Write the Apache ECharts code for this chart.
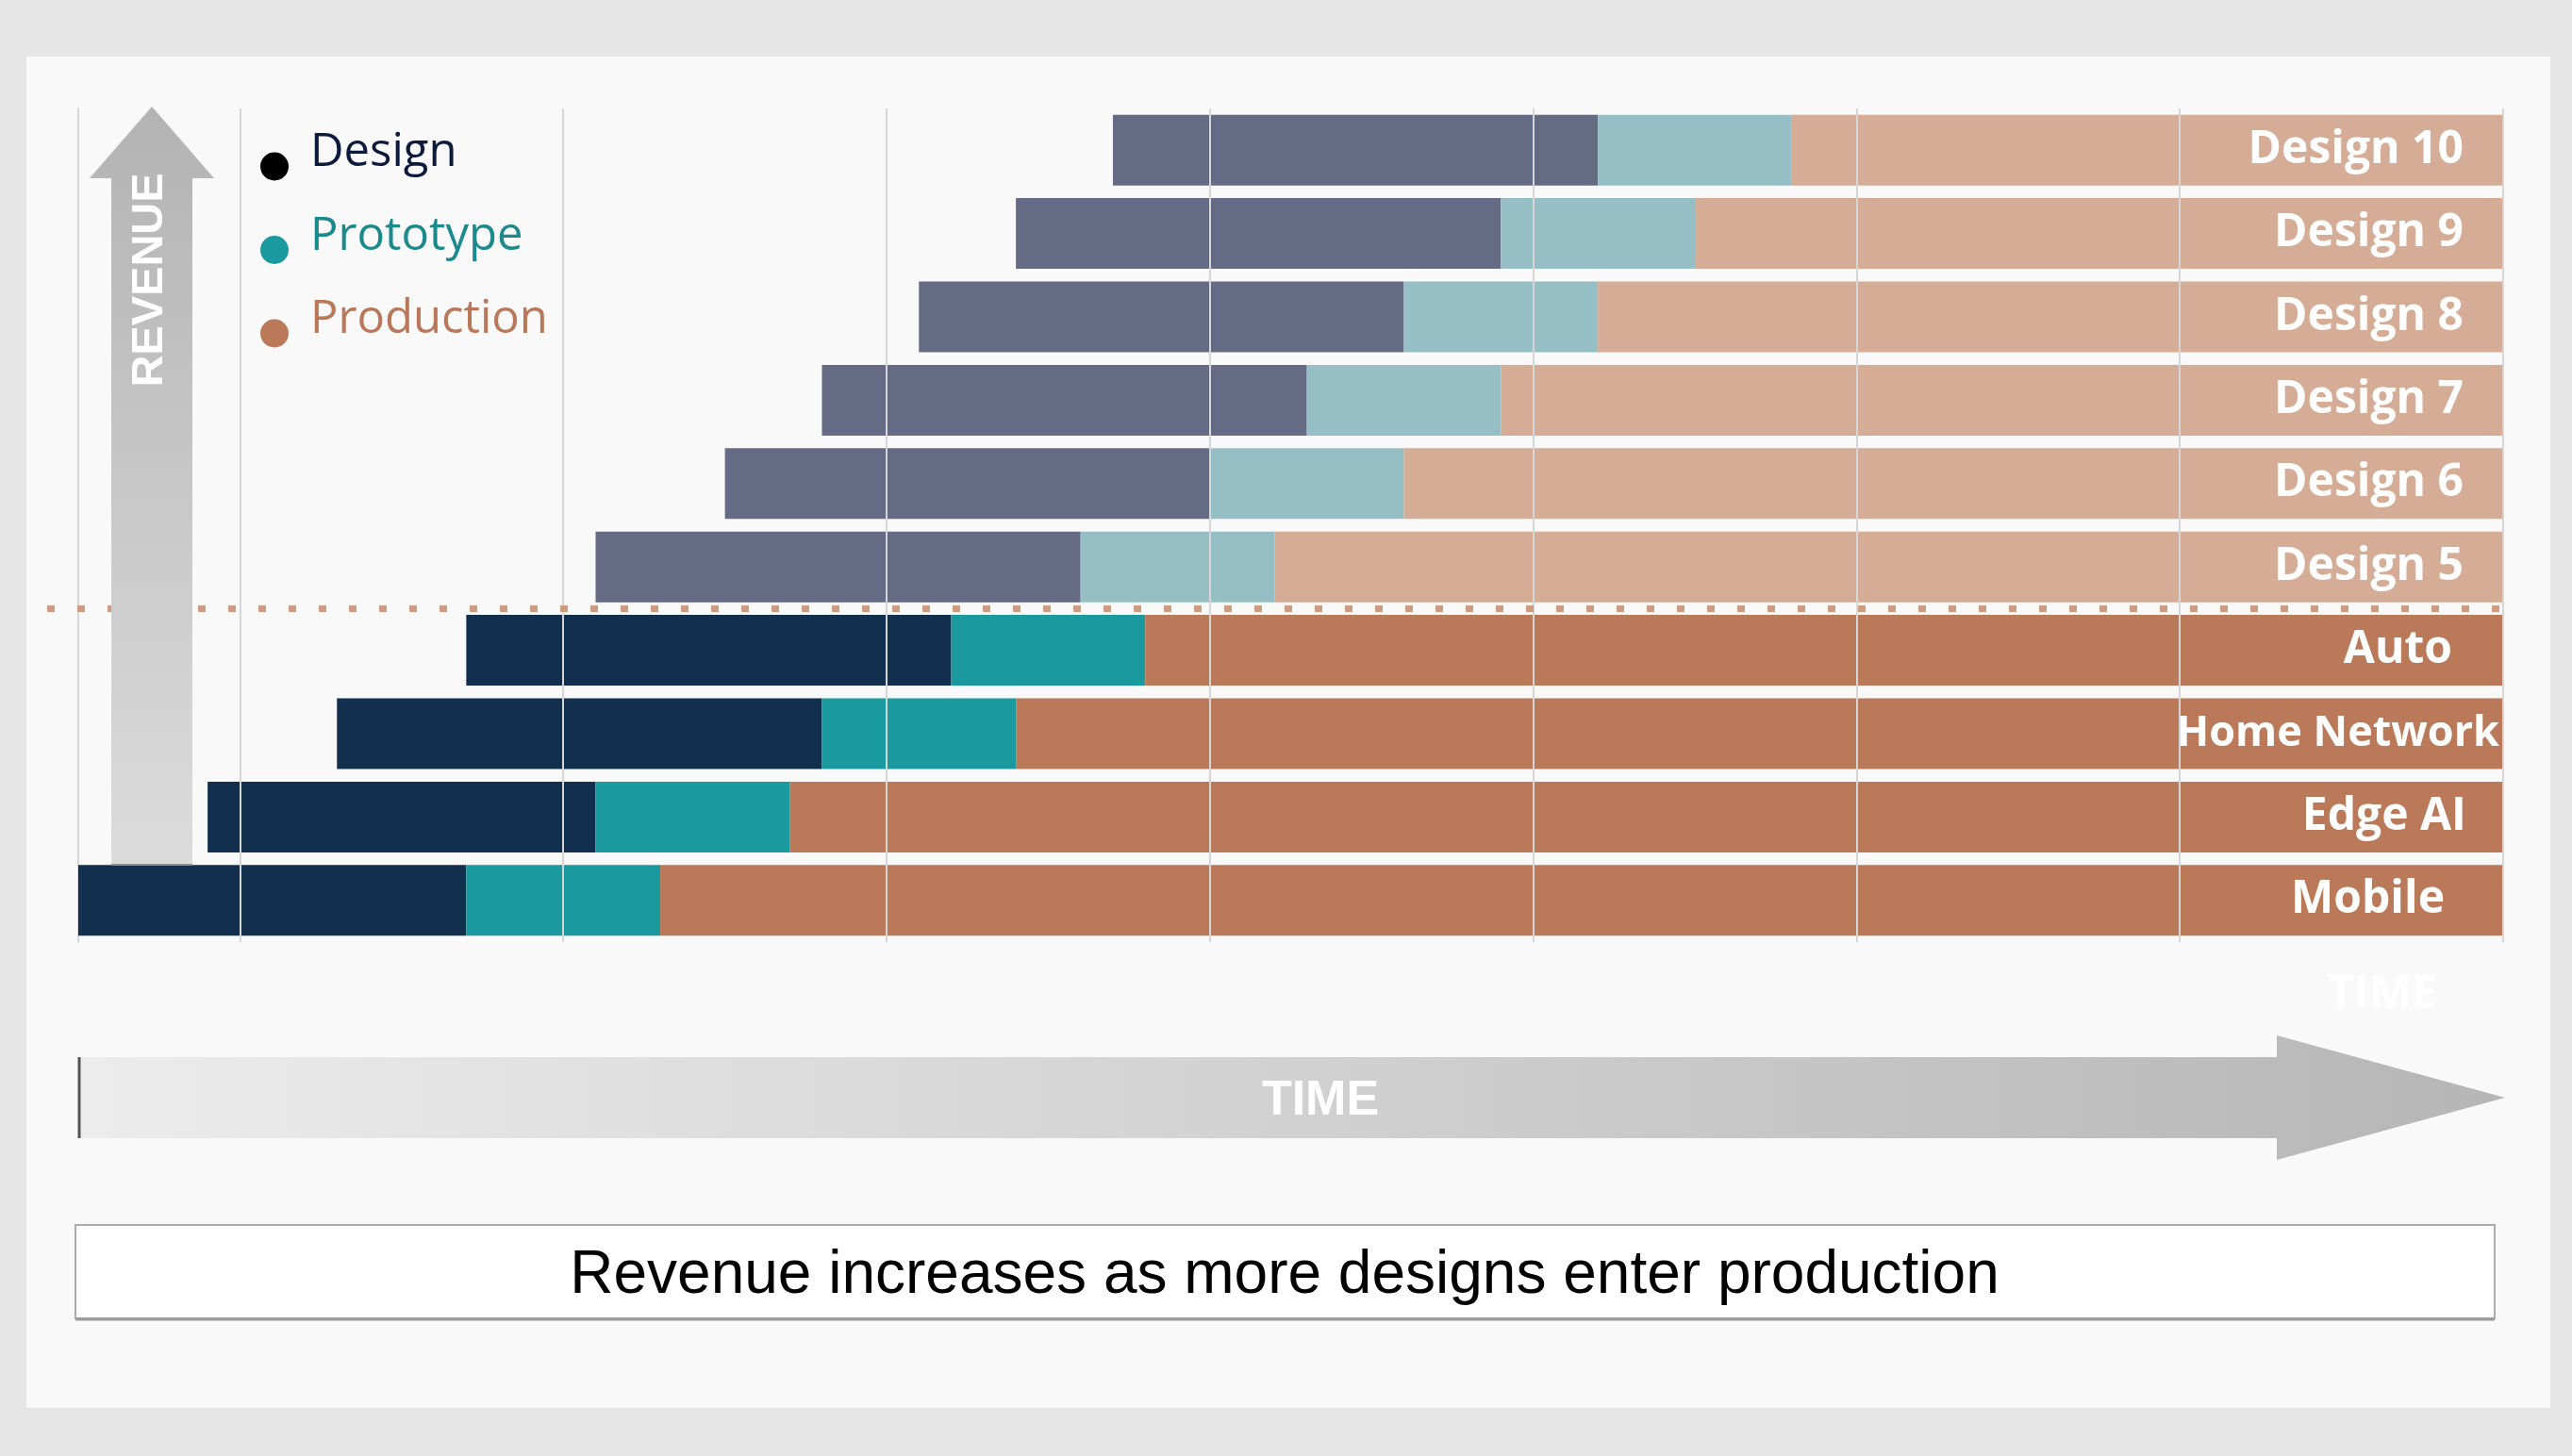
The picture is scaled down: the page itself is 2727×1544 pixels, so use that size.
<!DOCTYPE html>
<html><head><meta charset="utf-8">
<script src="https://cdn.jsdelivr.net/npm/echarts@6/dist/echarts.min.js"></script>
<style>html,body{margin:0;padding:0;background:#e5e5e5}#chart{width:2727px;height:1544px}</style>
</head><body><div id="chart"></div>
<script>
// ---- data ----
const categories = ['Mobile', 'Edge AI', 'Home Network', 'Auto', 'Design 5', 'Design 6', 'Design 7', 'Design 8', 'Design 9', 'Design 10'];
const startTime = [0, 4, 8, 12, 16, 20, 23, 26, 29, 32];
const designLength = [12, 12, 15, 15, 15, 15, 15, 15, 15, 15];
const prototypeLength = [6, 6, 6, 6, 6, 6, 6, 6, 6, 6];
const productionLength = [57, 53, 46, 42, 38, 34, 31, 28, 25, 22];
const inProduction = [true, true, true, true, false, false, false, false, false, false];
const phaseNames = ['Design', 'Prototype', 'Production'];
const timeMin = 0;
const timeMax = 75;
const timeTickStep = 5;

// ---- styles ----
const phaseColors = {
  Design: { live: '#12304d', planned: '#666b85' },
  Prototype: { live: '#1a999e', planned: '#95bfc5' },
  Production: { live: '#ba7a5a', planned: '#d5ac95' }
};
const legendTextColors = { Design: '#0c1a3c', Prototype: '#1a8a8c', Production: '#b9785a' };
const labelInset = { 'Mobile': 62, 'Edge AI': 39, 'Home Network': 4, 'Auto': 54 };
const labelSize = { 'Home Network': 45 };
const defaultInset = 42;
const defaultLabelSize = 48;

function phaseData(values, phase, withLabel) {
  return values.map((v, i) => {
    const item = { value: v, itemStyle: { color: inProduction[i] ? phaseColors[phase].live : phaseColors[phase].planned } };
    if (withLabel) {
      const d = labelInset[categories[i]];
      const s = labelSize[categories[i]];
      item.label = { distance: d == null ? defaultInset : d, fontSize: s == null ? defaultLabelSize : s };
    }
    return item;
  });
}

const chart = echarts.init(document.getElementById('chart'), null, { renderer: 'canvas' });
const BAR_W = 75;
const option = {
  animation: false,
  backgroundColor: '#e5e5e5',
  grid: { left: 83, right: 73, top: 115, height: 884, containLabel: false },
  legend: {
    orient: 'vertical', left: 276, top: 138, padding: 0,
    itemWidth: 66, itemHeight: 30, itemGap: 20, icon: 'circle', selectedMode: false,
    formatter: '{n|{name}}\n{g| }',
    textStyle: {
      fontFamily: 'Open Sans', fontSize: 49,
      rich: {
        n: { fontFamily: 'Open Sans', fontSize: 49, lineHeight: 50 },
        g: { fontSize: 10, lineHeight: 28 }
      }
    },
    data: phaseNames.map(n => ({
      name: n,
      itemStyle: { color: n === 'Design' ? '#000000' : phaseColors[n].live },
      textStyle: { color: legendTextColors[n] }
    }))
  },
  xAxis: {
    type: 'value', min: timeMin, max: timeMax, interval: timeTickStep, z: 10,
    axisLabel: { show: false }, axisTick: { show: false }, axisLine: { show: false },
    splitLine: { show: true, lineStyle: { color: ['rgba(0,0,0,0)', '#d6d6d6'], width: 2 } }
  },
  yAxis: {
    type: 'category', data: categories,
    axisLabel: { show: false }, axisTick: { show: false },
    axisLine: { show: true, lineStyle: { color: '#d6d6d6', width: 2 } },
    splitLine: { show: false }
  },
  series: [
    { name: 'offset', type: 'bar', stack: 't', barWidth: BAR_W, silent: true,
      itemStyle: { color: 'rgba(0,0,0,0)' }, data: startTime },
    { name: 'Design', type: 'bar', stack: 't', barWidth: BAR_W,
      itemStyle: { color: phaseColors.Design.live }, data: phaseData(designLength, 'Design', false) },
    { name: 'Prototype', type: 'bar', stack: 't', barWidth: BAR_W,
      itemStyle: { color: phaseColors.Prototype.live }, data: phaseData(prototypeLength, 'Prototype', false) },
    { name: 'Production', type: 'bar', stack: 't', barWidth: BAR_W,
      itemStyle: { color: phaseColors.Production.live },
      label: { show: true, position: 'insideRight', formatter: p => p.name,
        color: '#ffffff', fontFamily: 'Open Sans', fontWeight: 'bold', fontSize: defaultLabelSize },
      data: phaseData(productionLength, 'Production', true) }
  ]
};
chart.setOption(option);

// separator between launched and planned designs, placed via the category scale
const yAuto = chart.convertToPixel({ yAxisIndex: 0 }, 'Auto');
const yNext = chart.convertToPixel({ yAxisIndex: 0 }, 'Design 5');
const ySep = (yAuto + yNext) / 2;
const xEnd = chart.convertToPixel({ xAxisIndex: 0 }, timeMax);
const xStart = chart.convertToPixel({ xAxisIndex: 0 }, timeMin);

const elements = [
  { type: 'rect', z: -10, silent: true, shape: { x: 28, y: 60, width: 2676, height: 1433 }, style: { fill: '#f9f9f9' } },
  { type: 'line', z: 15, silent: true, shape: { x1: 50, y1: ySep, x2: xEnd, y2: ySep },
    style: { stroke: '#cc9c81', lineWidth: 7, lineDash: [8, 24] } },
  // REVENUE arrow
  { type: 'polygon', z: 20, silent: true,
    shape: { points: [[161, 113], [227, 189], [204, 189], [204, 918], [118, 918], [118, 189], [95, 189]] },
    style: { fill: { type: 'linear', x: 0, y: 0, x2: 0, y2: 1, colorStops: [{ offset: 0, color: '#b3b3b3' }, { offset: 1, color: '#dcdcdc' }] } } },
  { type: 'line', z: 21, silent: true, shape: { x1: 118, y1: 917, x2: 204, y2: 917 }, style: { stroke: '#909090', lineWidth: 2 } },
  { type: 'text', z: 22, silent: true, x: 159, y: 297, rotation: Math.PI / 2,
    style: { text: 'REVENUE', fill: '#ffffff', font: 'bold 47px "Liberation Sans"', textAlign: 'center', textVerticalAlign: 'middle', align: 'center', verticalAlign: 'middle' } },
  // TIME arrow
  { type: 'polygon', z: 20, silent: true,
    shape: { points: [[xStart, 1121], [2414, 1121], [2414, 1098], [2656, 1164], [2414, 1230], [2414, 1207], [xStart, 1207]] },
    style: { fill: { type: 'linear', x: 0, y: 0, x2: 1, y2: 0, colorStops: [{ offset: 0, color: '#ececec' }, { offset: 1, color: '#b6b6b6' }] } } },
  { type: 'line', z: 21, silent: true, shape: { x1: xStart + 1, y1: 1121, x2: xStart + 1, y2: 1207 }, style: { stroke: '#555555', lineWidth: 3 } },
  { type: 'text', z: 22, silent: true, x: 1400, y: 1168,
    style: { text: 'TIME', fill: '#ffffff', font: 'bold 52px "Liberation Sans"', textAlign: 'center', textVerticalAlign: 'middle', align: 'center', verticalAlign: 'middle' } },
  { type: 'text', z: 22, silent: true, x: 2526, y: 1055,
    style: { text: 'TIME', fill: '#ffffff', font: 'bold 48px "Open Sans"', textAlign: 'center', textVerticalAlign: 'middle', align: 'center', verticalAlign: 'middle' } },
  // caption box
  { type: 'rect', z: 20, silent: true, shape: { x: 80, y: 1299, width: 2565, height: 99 }, style: { fill: '#ffffff', stroke: '#ababab', lineWidth: 2 } },
  { type: 'line', z: 21, silent: true, shape: { x1: 80, y1: 1399, x2: 2645, y2: 1399 }, style: { stroke: '#9a9a9a', lineWidth: 3 } },
  { type: 'text', z: 22, silent: true, x: 1362, y: 1353,
    style: { text: 'Revenue increases as more designs enter production', fill: '#000000', font: '64px "Liberation Sans"', textAlign: 'center', textVerticalAlign: 'middle', align: 'center', verticalAlign: 'middle' } }
];
chart.setOption({ graphic: [{ elements: elements }] });
</script>
</body></html>
